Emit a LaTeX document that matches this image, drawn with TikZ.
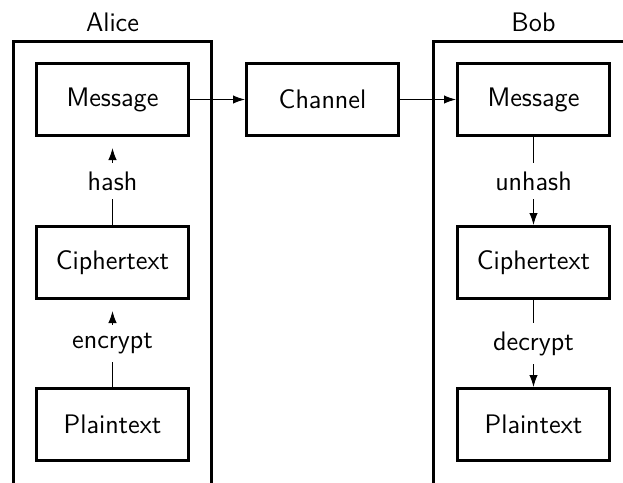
\documentclass[tikz,border=0pt]{standalone}
\usepackage{fontspec}
\usetikzlibrary{arrows.meta}
\begin{document}
\begin{tikzpicture}[x=0.5pt,y=-0.5pt,
  every node/.style={font=\sffamily\fontsize{13.4}{15}\selectfont},
  block/.style={draw, line width=1.5pt, minimum width=76pt, minimum height=36pt, inner sep=0pt},
  frame/.style={line width=1.5pt},
  link/.style={line width=0.55pt, -{Latex[length=6pt,width=4.2pt]}},
  lbl/.style={fill=white, inner sep=4.3pt}]
  \useasboundingbox (0,0) rectangle (623,483);

  % party frames, open at the bottom
  \draw[frame] (13.5,500) -- (13.5,41) -- (211.5,41) -- (211.5,500);
  \draw[frame] (433.5,500) -- (433.5,41) -- (650,41);
  \node (alice) at (112.5,22) {Alice};
  \node (bob) at (533.5,22) {Bob};

  % Alice's stack
  \node[block] (mA) at (112.5,99.5) {Message};
  \node[block] (cA) at (112.5,262.5) {Ciphertext};
  \node[block] (pA) at (112.5,424.5) {Plaintext};

  % channel
  \node[block] (ch) at (322.5,99.5) {Channel};

  % Bob's stack
  \node[block] (mB) at (533.5,99.5) {Message};
  \node[block] (cB) at (533.5,262.5) {Ciphertext};
  \node[block] (pB) at (533.5,424.5) {Plaintext};

  % transfer
  \draw[link] (mA) -- (ch);
  \draw[link] (ch) -- (mB);

  % Alice: plaintext -> ciphertext -> message
  \draw[link, shorten >=5.5pt] (pA) -- node[lbl] {encrypt} (cA);
  \draw[link, shorten >=5.5pt] (cA) -- node[lbl] {hash} (mA);

  % Bob: message -> ciphertext -> plaintext
  \draw[link] (mB) -- node[lbl] {unhash} (cB);
  \draw[link] (cB) -- node[lbl] {decrypt} (pB);
\end{tikzpicture}
\end{document}
